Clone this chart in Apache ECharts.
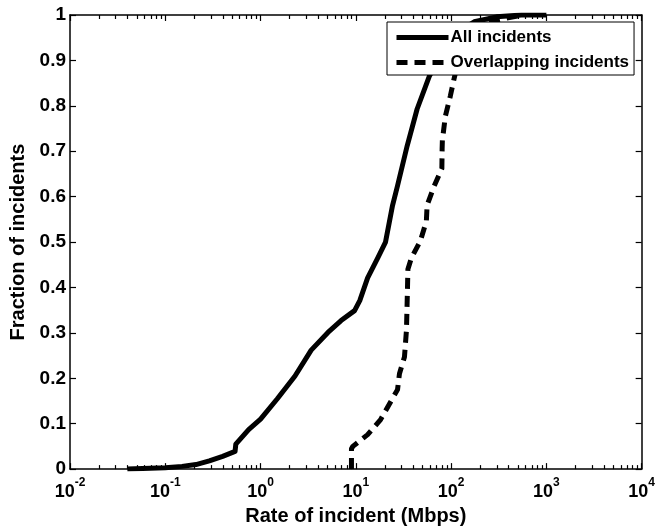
<!DOCTYPE html>
<html>
<head>
<meta charset="utf-8">
<script src="https://cdn.jsdelivr.net/npm/echarts@6/dist/echarts.min.js"></script>
<style>
  html, body { margin: 0; padding: 0; background: #fff; }
  #main { width: 658px; height: 531px; }
</style>
</head>
<body>
<div id="main"></div>
<script>
// All incidents (solid)
const allRate = [0.04, 0.1, 0.15, 0.21, 0.29, 0.4, 0.54, 0.55, 0.75, 1.0, 1.5, 2.3, 3.4, 5.1, 7, 9.7, 11, 13.3, 17, 20.5, 24.3, 27.4, 34.6, 44, 59, 75, 100, 140, 175, 300, 550, 1000];
const allFrac = [0, 0.003, 0.006, 0.01, 0.018, 0.028, 0.039, 0.055, 0.087, 0.11, 0.155, 0.205, 0.262, 0.301, 0.327, 0.349, 0.371, 0.421, 0.465, 0.5, 0.581, 0.624, 0.712, 0.793, 0.865, 0.905, 0.945, 0.972, 0.985, 0.996, 1, 1];
// Overlapping incidents (dashed)
const overlapRate = [9, 9, 9.3, 13.3, 18.2, 22.6, 27.4, 28.7, 32.4, 34, 34.8, 35.2, 38.3, 47.5, 55, 56, 66, 80, 80.5, 81, 83, 87, 98, 107, 115, 150, 240, 570];
const overlapFrac = [0, 0.045, 0.05, 0.076, 0.109, 0.144, 0.175, 0.21, 0.247, 0.306, 0.393, 0.44, 0.465, 0.502, 0.546, 0.581, 0.622, 0.662, 0.705, 0.725, 0.742, 0.777, 0.821, 0.858, 0.886, 0.95, 0.985, 1];

const seriesNames = ['All incidents', 'Overlapping incidents'];
const xExponents = [-2, -1, 0, 1, 2, 3, 4];
const yTicks = [0, 0.1, 0.2, 0.3, 0.4, 0.5, 0.6, 0.7, 0.8, 0.9, 1];

const font = 'Liberation Sans, Arial, Helvetica, sans-serif';

function pairs(xs, ys) {
    return xs.map((x, i) => [x, ys[i]]);
}

// minor tick positions of the log axis: 2..9 in each decade
let minorTicks = [];
for (let i = 0; i < xExponents.length - 1; i++) {
    for (let m = 2; m <= 9; m++) {
        minorTicks.push([m * Math.pow(10, xExponents[i]), 0]);
    }
}

let myChart = echarts.init(document.getElementById('main'));

const xAxisBase = {
    type: 'log',
    logBase: 10,
    min: Math.pow(10, xExponents[0]),
    max: Math.pow(10, xExponents[xExponents.length - 1]),
    axisLine: { onZero: false, lineStyle: { color: '#000', width: 1.5 } },
    axisTick: { inside: true, length: 6, lineStyle: { color: '#000', width: 1.2 } },
    splitLine: { show: false }
};

const yAxisBase = {
    type: 'value',
    min: yTicks[0],
    max: yTicks[yTicks.length - 1],
    interval: 0.1,
    axisLine: { show: true, onZero: false, lineStyle: { color: '#000', width: 1.5 } },
    axisTick: { show: true, inside: true, length: 6, lineStyle: { color: '#000', width: 1.2 } },
    splitLine: { show: false }
};

myChart.setOption({
    animation: false,
    backgroundColor: '#fff',
    textStyle: { fontFamily: font, color: '#000', fontWeight: 'bold' },
    grid: { left: 70, right: 12, top: 15, bottom: 58 },
    legend: {
        orient: 'vertical',
        left: 387,
        top: 22,
        padding: [7, 5, 4, 7],
        itemGap: 8,
        itemWidth: 52,
        itemHeight: 18,
        backgroundColor: '#fff',
        borderColor: '#000',
        borderWidth: 1,
        borderRadius: 0,
        data: seriesNames,
        itemStyle: { opacity: 0 },
        lineStyle: { width: 5 },
        textStyle: { fontSize: 17, fontWeight: 'bold', color: '#000', fontFamily: font, padding: [0, 0, 0, -3] }
    },
    xAxis: [
        Object.assign({}, xAxisBase, {
            position: 'bottom',
            name: 'Rate of incident (Mbps)',
            nameLocation: 'middle',
            nameGap: 33,
            nameTextStyle: { fontSize: 20, fontWeight: 'bold', color: '#000', fontFamily: font },
            axisLabel: {
                margin: 8,
                color: '#000',
                fontFamily: font,
                formatter: function (v) {
                    const e = Math.round(Math.log10(v));
                    return '{b|10}{s|' + e + '}';
                },
                rich: {
                    b: { fontSize: 18, fontWeight: 'bold', lineHeight: 24, verticalAlign: 'bottom', fontFamily: font, color: '#000' },
                    s: { fontSize: 12, fontWeight: 'bold', lineHeight: 14, verticalAlign: 'top', fontFamily: font, color: '#000' }
                }
            }
        }),
        Object.assign({}, xAxisBase, {
            position: 'top',
            axisLabel: { show: false }
        })
    ],
    yAxis: [
        Object.assign({}, yAxisBase, {
            position: 'left',
            name: 'Fraction of incidents',
            nameLocation: 'middle',
            nameGap: 37,
            nameTextStyle: { fontSize: 20, fontWeight: 'bold', color: '#000', fontFamily: font },
            axisLabel: { margin: 4, fontSize: 19, fontWeight: 'bold', color: '#000', fontFamily: font }
        }),
        Object.assign({}, yAxisBase, {
            position: 'right',
            axisLabel: { show: false }
        })
    ],
    series: [{
        name: seriesNames[0],
        type: 'line',
        symbol: 'none',
        showSymbol: false,
        data: pairs(allRate, allFrac),
        lineStyle: { color: '#000', width: 5, type: 'solid', cap: 'butt', join: 'round' },
        itemStyle: { color: '#000' }
    }, {
        name: seriesNames[1],
        type: 'line',
        symbol: 'none',
        showSymbol: false,
        data: pairs(overlapRate, overlapFrac),
        lineStyle: { color: '#000', width: 5, type: [11, 7], cap: 'butt', join: 'round' },
        itemStyle: { color: '#000' }
    }, {
        name: 'minorTicks',
        type: 'custom',
        silent: true,
        clip: false,
        z: 3,
        data: minorTicks,
        renderItem: function (params, api) {
            const v = api.value(0);
            const pb = api.coord([v, 0]);
            const pt = api.coord([v, 1]);
            const x = Math.round(pb[0]) + 0.5;
            const st = { stroke: '#000', lineWidth: 1.2 };
            return {
                type: 'group',
                children: [
                    { type: 'line', shape: { x1: x, y1: pb[1], x2: x, y2: pb[1] - 4 }, style: st },
                    { type: 'line', shape: { x1: x, y1: pt[1], x2: x, y2: pt[1] + 4 }, style: st }
                ]
            };
        }
    }]
});
</script>
</body>
</html>
